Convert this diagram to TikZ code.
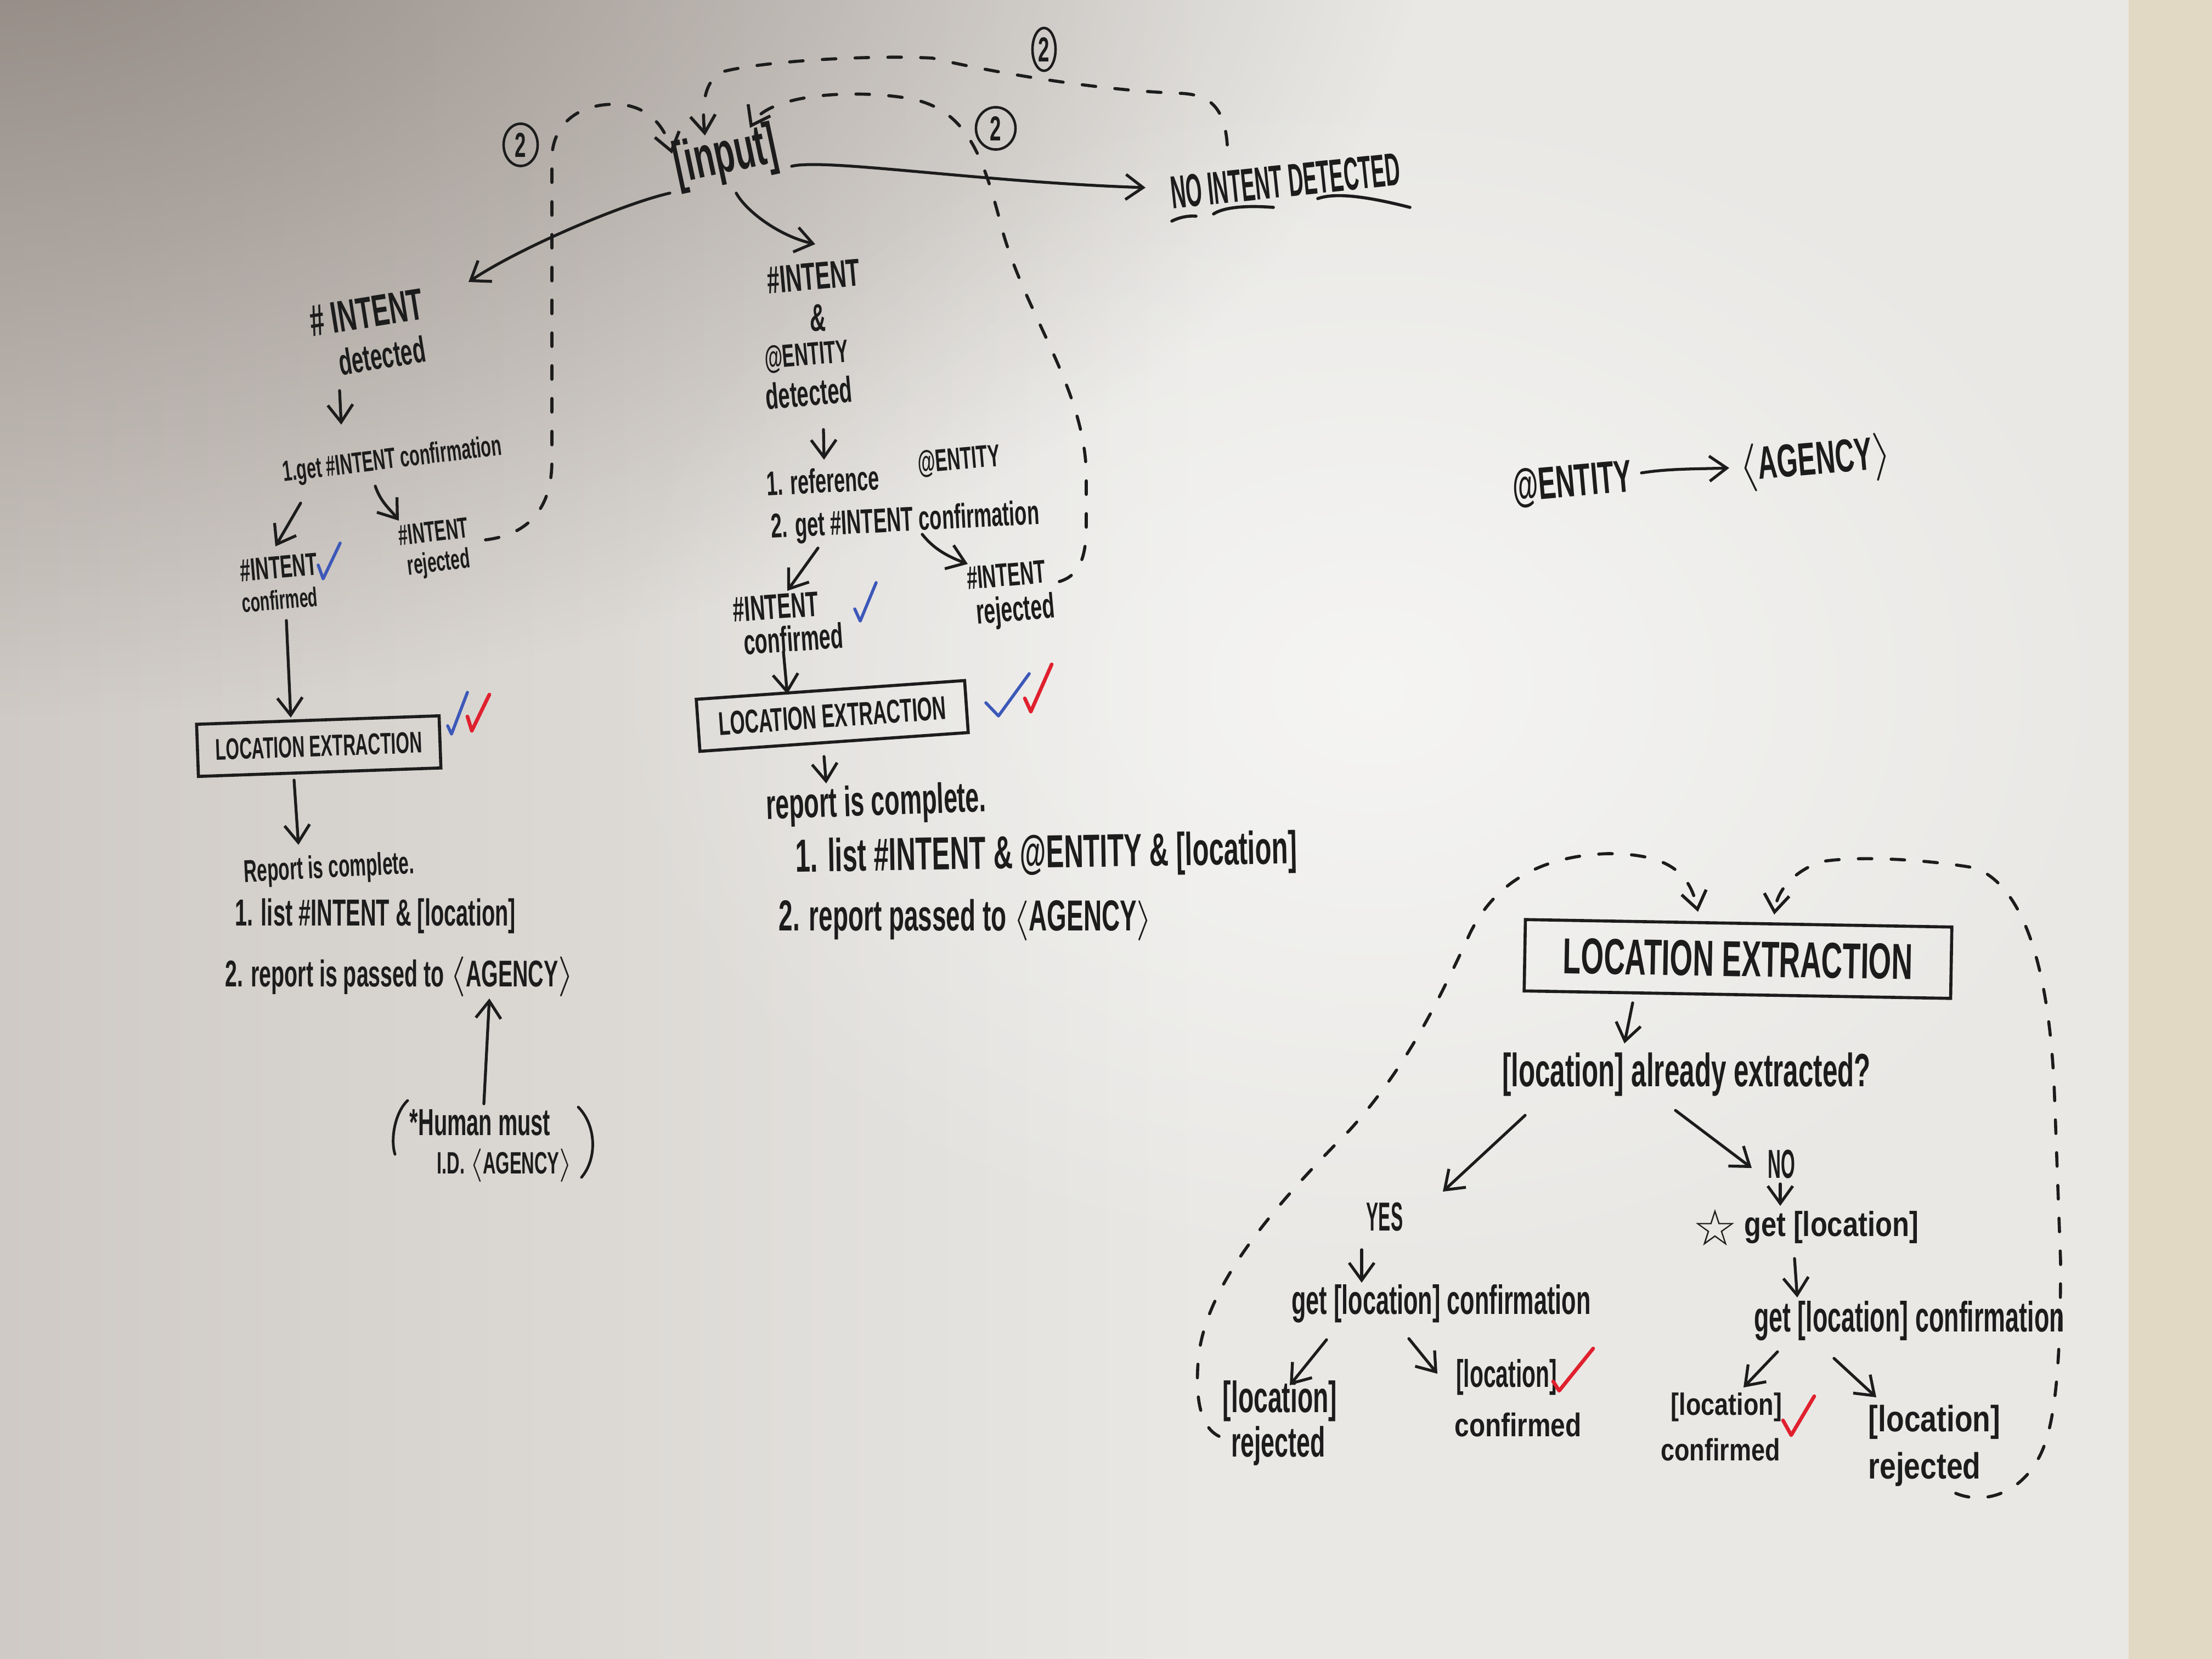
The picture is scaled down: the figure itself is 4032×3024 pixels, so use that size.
\documentclass[tikz,border=0pt]{standalone}
\usepackage{fontspec}
\setmainfont{Liberation Sans}[FakeStretch=0.58]
\newfontfamily\narrowf{Liberation Sans}[FakeStretch=0.45]
\newfontfamily\midf{Liberation Sans}[FakeStretch=0.8]
\newfontfamily\symf{DejaVu Sans}
\usetikzlibrary{arrows.meta,shapes.geometric,fadings}
\definecolor{ink}{HTML}{1C1C1C}
\definecolor{board}{HTML}{E9E8E5}
\definecolor{leftc}{HTML}{CFCAC5}
\definecolor{shadowc}{HTML}{8C827C}
\definecolor{wall}{HTML}{E2D9C4}
\definecolor{bluechk}{HTML}{3C58B8}
\definecolor{redchk}{HTML}{E0202E}
\tikzfading[name=vig, inner color=transparent!0, outer color=transparent!100]
\begin{document}
\begin{tikzpicture}[x=0.01cm,y=-0.01cm,
  hw/.style={text=ink, inner sep=0pt, font=\bfseries\fontsize{#1}{#1}\selectfont},
  hwn/.style={text=ink, inner sep=0pt, font=\narrowf\bfseries\fontsize{#1}{#1}\selectfont},
  hwm/.style={text=ink, inner sep=0pt, font=\midf\bfseries\fontsize{#1}{#1}\selectfont},
  lebox/.style={draw=ink, line width=1.6pt},
  num/.style={ellipse, draw=ink, line width=1.3pt, inner sep=0pt, text=ink, font=\bfseries\fontsize{18}{18}\selectfont},
  arr/.style={draw=ink, line width=1.5pt, line cap=round, -{Straight Barb[length=9pt,width=13pt]}},
  dsh/.style={draw=ink, line width=1.6pt, line cap=round, dash pattern=on 7pt off 10pt},
  darr/.style={dsh, -{Straight Barb[length=9pt,width=13pt]}},
  chkb/.style={draw=bluechk, line width=1.6pt, line cap=round, line join=round},
  chkr/.style={draw=redchk, line width=1.9pt, line cap=round, line join=round},
  pen/.style={draw=ink, line width=1.6pt, line cap=round}]

% ---------- whiteboard ----------
\useasboundingbox (0,0) rectangle (4032,3024);
\shade[left color=leftc, right color=board] (0,0) rectangle (2200,3024);
\fill[board] (2199,0) rectangle (4032,3024);
\begin{scope}
  \clip (0,0) rectangle (3880,3024);
  \fill[shadowc, path fading=vig, opacity=0.95] (0,-200) ellipse (2600 and 1500);
  \fill[white, path fading=vig, opacity=0.55] (2500,1250) ellipse (1400 and 1100);
\end{scope}
\fill[wall] (3880,0) rectangle (4032,3024);

% ---------- top ----------
\node[hw=30, rotate=12] (inp) at (1323,287) {[input]};
\node[hwn=24, rotate=6] (noint) at (2343,330) {NO INTENT DETECTED};
\node[num, minimum width=0.62cm, minimum height=0.77cm] (c1) at (949,264) {2};
\node[num, minimum width=0.72cm, minimum height=0.77cm] (c2) at (1815,234) {2};
\node[num, minimum width=0.42cm, minimum height=0.78cm] (c3) at (1903,90) {2};

\draw[pen] (2136,403) .. controls (2150,396) and (2165,393) .. (2180,394);
\draw[pen] (2212,390) .. controls (2230,378) and (2270,374) .. (2321,378);
\draw[pen] (2402,362) .. controls (2430,352) and (2480,355) .. (2570,378);

% ---------- left column ----------
\node[hw=23, rotate=9] (lint) at (668,570) {\# INTENT};
\node[hw=19, rotate=9] (ldet) at (696,648) {detected};
\node[hw=15, rotate=7] (lget) at (715,840) {1.get \#INTENT confirmation};
\node[hw=16.5, rotate=5] (lconf1) at (508,1034) {\#INTENT};
\node[hw=14, rotate=5] (lconf2) at (510,1093) {confirmed};
\node[hw=15, rotate=7] (lrej1) at (790,969) {\#INTENT};
\node[hw=14.6, rotate=7] (lrej2) at (800,1028) {rejected};
\node[lebox, hw=15.5, minimum width=4.42cm, minimum height=0.95cm, rotate=2] (lbox) at (581,1360) {LOCATION EXTRACTION};
\node[hw=16.4, rotate=3] (lrep) at (600,1585) {Report is complete.};
\node[hw=19.5] (llist) at (684,1670) {1. list \#INTENT \& [location]};
\node[hw=19.3] (lpass) at (728,1780) {2. report is passed to $\langle$AGENCY$\rangle$};
\node[hw=19.5] (lhum1) at (875,2046) {*Human must};
\node[hw=16] (lhum2) at (920,2124) {I.D. $\langle$AGENCY$\rangle$};
\draw[draw=ink, line width=1.4pt, line cap=round] (743,2006) .. controls (718,2030) and (712,2080) .. (720,2104);
\draw[draw=ink, line width=1.4pt, line cap=round] (1054,2018) .. controls (1086,2050) and (1090,2110) .. (1060,2146);

% ---------- middle column ----------
\node[hw=20, rotate=5] (mint) at (1483,504) {\#INTENT};
\node[hw=20] (mand) at (1491,580) {\&};
\node[hw=16.6, rotate=5] (ment) at (1470,650) {@ENTITY};
\node[hw=18.8, rotate=5] (mdet) at (1474,716) {detected};
\node[hw=17.7, rotate=3] (mref) at (1500,876) {1. reference};
\node[hw=16.2, rotate=5] (ment2) at (1748,840) {@ENTITY};
\node[hw=17.8, rotate=3] (mget) at (1650,952) {2. get \#INTENT confirmation};
\node[hw=18.3, rotate=4] (mconf1) at (1414,1106) {\#INTENT};
\node[hw=18.4, rotate=4] (mconf2) at (1446,1164) {confirmed};
\node[hw=16.9, rotate=5] (mrej1) at (1834,1048) {\#INTENT};
\node[hw=18.3, rotate=5] (mrej2) at (1851,1115) {rejected};
\node[lebox, hw=17.1, minimum width=4.9cm, minimum height=0.95cm, rotate=4] (mbox) at (1517,1305) {LOCATION EXTRACTION};
\node[hw=22, rotate=2] (mrep) at (1597,1466) {report is complete.};
\node[hw=24, rotate=1] (mlist) at (1907,1560) {1. list \#INTENT \& @ENTITY \& [location]};
\node[hw=22.5] (mpass) at (1760,1677) {2. report passed to $\langle$AGENCY$\rangle$};

% ---------- right top ----------
\node[hw=23.6, rotate=5] (rent) at (2866,882) {@ENTITY};
\node[hw=24, rotate=5] (rag) at (3309,843) {$\langle$AGENCY$\rangle$};

% ---------- bottom right ----------
\node[lebox, hw=26.2, minimum width=7.77cm, minimum height=1.3cm, rotate=-1] (bbox) at (3168,1748) {LOCATION EXTRACTION};
\node[hw=24.2] (bq) at (3074,1958) {[location] already extracted?};
\node[hwn=21] (yes) at (2524,2218) {YES};
\node[hwn=21] (no) at (3247,2122) {NO};
\node[hw=21.2] (ycf) at (2627,2376) {get [location] confirmation};
\node[text=ink, inner sep=0pt, font=\symf\fontsize{26}{26}\selectfont] (nst) at (3126,2238) {☆};
\node[hwm=18] (ngl) at (3338,2237) {get [location]};
\node[hw=22] (ncf) at (3480,2408) {get [location] confirmation};
\node[hw=22.7] (yrej1) at (2333,2554) {[location]};
\node[hw=21.9] (yrej2) at (2330,2636) {rejected};
\node[hw=20] (ycon1) at (2746,2510) {[location]};
\node[hwm=17] (ycon2) at (2767,2597) {confirmed};
\node[hwm=16] (ncon1) at (3147,2565) {[location]};
\node[hwm=16] (ncon2) at (3136,2642) {confirmed};
\node[hwm=19] (nrej1) at (3526,2592) {[location]};
\node[hwm=19] (nrej2) at (3508,2678) {rejected};

% ---------- solid connectors ----------
\draw[arr] ([shift={(120,16)}]inp.center) .. controls +(60,-15) and +(-300,-10) .. ([shift={(-255,12)}]noint.center);
\draw[arr] ([shift={(-102,65)}]inp.center) .. controls (1140,370) and (950,450) .. ([shift={(186,-56)}]lint.center);
\draw[arr] ([shift={(19,65)}]inp.center) .. controls (1360,385) and (1420,430) .. ([shift={(3,-59)}]mint.center);

\draw[arr] ([shift={(-77,64)}]ldet.center) -- ([shift={(-93,-66)}]lget.center);
\draw[arr] ([shift={(-167,77)}]lget.center) -- ([shift={(-6,-38)}]lconf1.center);
\draw[arr] ([shift={(-31,46)}]lget.center) .. controls +(10,30) and +(-15,-20) .. ([shift={(-63,-20)}]lrej1.center);
\draw[arr] ([shift={(12,38)}]lconf2.center) -- ([shift={(-51,-52)}]lbox.center);
\draw[arr] ([shift={(-45,62)}]lbox.center) -- ([shift={(-56,-45)}]lrep.center);
\draw[arr] ([shift={(7,-34)}]lhum1.center) -- ([shift={(164,40)}]lpass.center);

\draw[arr] ([shift={(27,67)}]mdet.center) -- ([shift={(2,-38)}]mref.center);
\draw[arr] ([shift={(-159,47)}]mget.center) -- ([shift={(21,-29)}]mconf1.center);
\draw[arr] ([shift={(31,22)}]mget.center) .. controls +(20,25) and +(-40,-15) .. ([shift={(-70,-20)}]mrej1.center);
\draw[arr] ([shift={(-18,24)}]mconf2.center) -- ([shift={(-82,-40)}]mbox.center);
\draw[arr] ([shift={(-15,74)}]mbox.center) -- ([shift={(-91,-38)}]mrep.center);

\draw[arr] ([shift={(126,-20)}]rent.center) .. controls +(50,-8) and +(-60,2) .. ([shift={(-157,10)}]rag.center);

\draw[arr] ([shift={(-192,80)}]bbox.center) -- ([shift={(-113,-56)}]bq.center);
\draw[arr] ([shift={(-294,75)}]bq.center) -- ([shift={(106,-46)}]yes.center);
\draw[arr] ([shift={(-20,66)}]bq.center) -- ([shift={(-54,7)}]no.center);
\draw[arr] ([shift={(-2,36)}]no.center) -- ([shift={(-93,-39)}]ngl.center);
\draw[arr] ([shift={(-42,60)}]yes.center) -- ([shift={(-145,-38)}]ycf.center);
\draw[arr] ([shift={(-67,57)}]ngl.center) -- ([shift={(-204,-43)}]ncf.center);
\draw[arr] ([shift={(-209,66)}]ycf.center) -- ([shift={(18,-29)}]yrej1.center);
\draw[arr] ([shift={(-59,64)}]ycf.center) -- ([shift={(-126,-6)}]ycon1.center);
\draw[arr] ([shift={(-240,56)}]ncf.center) -- ([shift={(31,-36)}]ncon1.center);
\draw[arr] ([shift={(-137,68)}]ncf.center) -- ([shift={(-106,-45)}]nrej1.center);

% ---------- dashed return loops ----------
\draw[darr] ([shift={(95,15)}]lrej1.center) .. controls (960,975) and (1006,930) .. (1006,840) -- (1006,290) .. controls (1006,230) and (1050,190) .. (1120,190) .. controls (1180,190) and (1212,230) .. ([shift={(-98,-7)}]inp.center);
\draw[darr] ([shift={(97,12)}]mrej1.center) .. controls (1965,1050) and (1980,1020) .. (1980,960) -- (1980,860) .. controls (1975,700) and (1860,560) .. (1822,400) .. controls (1790,280) and (1760,200) .. (1660,180) .. controls (1560,162) and (1400,170) .. ([shift={(44,-54)}]inp.center);
\draw[darr] ([shift={(-106,-66)}]noint.center) .. controls (2232,190) and (2200,172) .. (2150,170) .. controls (2000,165) and (1800,130) .. (1700,106) .. controls (1600,100) and (1400,110) .. (1320,130) .. controls (1280,145) and (1280,200) .. ([shift={(-38,-40)}]inp.center);
\draw[darr] ([shift={(-108,-18)}]yrej2.center) .. controls (2185,2600) and (2178,2540) .. (2185,2470) .. controls (2200,2350) and (2300,2220) .. (2460,2060) .. controls (2560,1950) and (2620,1830) .. (2680,1700) .. controls (2730,1600) and (2820,1560) .. (2930,1556) .. controls (3040,1556) and (3080,1590) .. ([shift={(-73,-86)}]bbox.center);
\draw[darr] ([shift={(57,44)}]nrej2.center) .. controls (3620,2745) and (3700,2720) .. (3730,2624) .. controls (3750,2560) and (3756,2450) .. (3756,2300) -- (3745,2000) .. controls (3738,1800) and (3700,1620) .. (3600,1582) .. controls (3500,1565) and (3380,1560) .. (3317,1571) .. controls (3270,1590) and (3240,1620) .. ([shift={(66,-81)}]bbox.center);

% ---------- check marks ----------
\draw[chkb] (580,1030) -- (589,1055) -- (620,990);
\draw[chkb] (816,1323) -- (823,1338) -- (852,1262);
\draw[chkr] (852,1306) -- (860,1332) -- (892,1266);
\draw[chkb] (1558,1110) -- (1568,1132) -- (1597,1062);
\draw[chkb] (1797,1281) -- (1820,1305) -- (1876,1228);
\draw[chkr] (1868,1273) -- (1879,1297) -- (1917,1211);
\draw[chkr] (2831,2518) -- (2842,2535) -- (2904,2458);
\draw[chkr] (3250,2589) -- (3265,2616) -- (3307,2545);
\end{tikzpicture}
\end{document}
